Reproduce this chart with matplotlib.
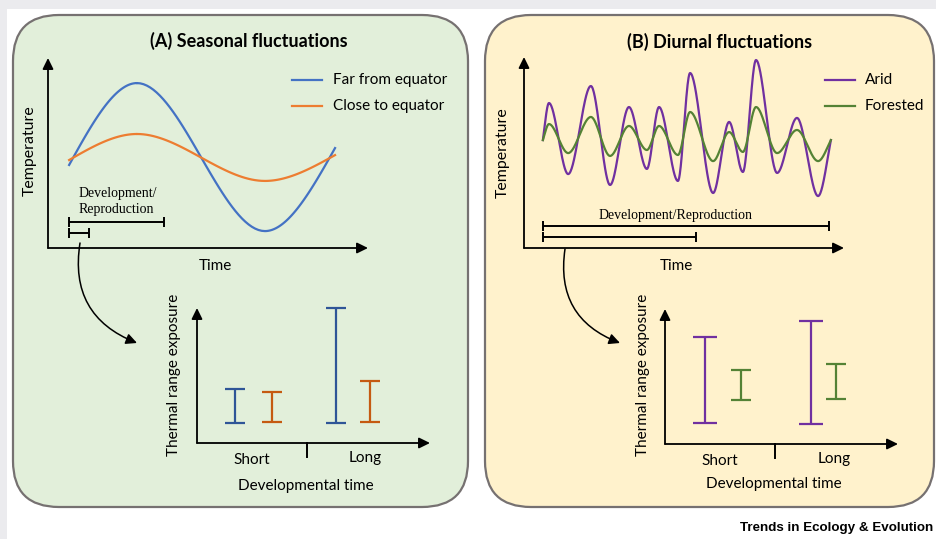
import numpy as np
import matplotlib
matplotlib.use("Agg")
import matplotlib.pyplot as plt
from matplotlib.patches import FancyBboxPatch, FancyArrowPatch, Rectangle

# ---------------- data ----------------
# (A) seasonal fluctuations: turning points of the temperature curves (relative units 0-100)
seasonal_series = ["Far from equator", "Close to equator"]
seasonal_time = [6.6, 27.8, 67.8, 89.7]
seasonal_temp_far = [43.7, 86.8, 8.9, 52.6]
seasonal_temp_close = [46.3, 60.0, 35.3, 48.9]
seasonal_dev_long = [6.6, 36.3]
seasonal_dev_short = [6.6, 12.8]

# (B) diurnal fluctuations: turning points of the temperature curves
diurnal_series = ["Arid", "Forested"]
diurnal_time = [5.9, 7.8, 13.8, 20.9, 26.9, 32.8, 38.4, 42.2, 48.1, 51.9,
                59.1, 64.1, 68.4, 72.5, 79.1, 85.3, 91.9, 95.9]
diurnal_temp_arid = [56.5, 75.9, 38.7, 84.8, 33.0, 73.8, 41.4, 73.8, 35.1, 91.6,
                     28.8, 66.0, 39.8, 98.4, 39.3, 68.1, 27.2, 56.5]
diurnal_temp_forested = [56.5, 64.9, 49.7, 68.6, 48.2, 63.9, 51.3, 63.9, 48.7, 71.2,
                         45.5, 60.7, 50.3, 73.8, 49.7, 61.8, 45.5, 56.5]
diurnal_dev_long = [5.9, 95.3]
diurnal_dev_short = [5.9, 53.8]

# thermal range exposure (low, high) per developmental time category
dev_categories = ["Short", "Long"]
seasonal_far_low = [14.8, 14.8]
seasonal_far_high = [40.0, 100.0]
seasonal_close_low = [15.6, 15.6]
seasonal_close_high = [37.8, 45.9]
diurnal_arid_low = [15.6, 14.8]
diurnal_arid_high = [79.3, 91.1]
diurnal_forest_low = [32.6, 33.3]
diurnal_forest_high = [54.8, 59.3]

# ---------------- styling ----------------
C_BLUE, C_ORANGE = "#4472c4", "#ed7d31"
C_BLUE_D, C_ORANGE_D = "#2f5597", "#c55a11"
C_PURPLE, C_GREEN = "#7030a0", "#548235"
SANS = ["Lato", "DejaVu Sans"]
SERIF = ["Liberation Serif", "DejaVu Serif"]
FS = 11

W, H = 936, 539
fig = plt.figure(figsize=(W / 100, H / 100), dpi=100)
bg = fig.add_axes([0, 0, 1, 1])
bg.set_xlim(0, W)
bg.set_ylim(H, 0)
bg.axis("off")

bg.add_patch(Rectangle((0, 0), W, 9, color="#ebebee", lw=0))
bg.add_patch(Rectangle((0, 0), 7, H, color="#ebebee", lw=0))
for x0, x1, fc in [(13, 468, "#e2efda"), (485, 934, "#fff2cc")]:
    bg.add_patch(FancyBboxPatch((x0, 15), x1 - x0, 492,
                                boxstyle="round,pad=0,rounding_size=46",
                                fc=fc, ec="#767171", lw=1.6))


def px_axes(x0, ytop, x1, ybot):
    ax = fig.add_axes([x0 / W, 1 - ybot / H, (x1 - x0) / W, (ybot - ytop) / H])
    ax.patch.set_alpha(0)
    for s in ax.spines.values():
        s.set_visible(False)
    ax.set_xticks([])
    ax.set_yticks([])
    arrow = dict(arrowstyle="-|>,head_length=0.65,head_width=0.32", lw=1.3,
                 color="black", mutation_scale=10, shrinkA=0, shrinkB=0)
    ax.annotate("", xy=(0, 1), xytext=(0, 0), xycoords="axes fraction", arrowprops=arrow)
    ax.annotate("", xy=(1, 0), xytext=(0, 0), xycoords="axes fraction", arrowprops=arrow)
    return ax


def smooth_curve(t, v, n=40, edge=1.5):
    t = np.asarray(t, float)
    v = np.asarray(v, float)
    xs, ys = [], []
    last = len(t) - 2
    s = np.linspace(0, 1, n)
    h00 = 2 * s**3 - 3 * s**2 + 1
    h10 = s**3 - 2 * s**2 + s
    h01 = -2 * s**3 + 3 * s**2
    h11 = s**3 - s**2
    for i in range(len(t) - 1):
        p0, p1 = v[i], v[i + 1]
        m0 = edge * (p1 - p0) if i == 0 else 0.0
        m1 = edge * (p1 - p0) if i == last else 0.0
        ys.append(h00 * p0 + h10 * m0 + h01 * p1 + h11 * m1)
        xs.append(t[i] + s * (t[i + 1] - t[i]))
    return np.concatenate(xs), np.concatenate(ys)


def dev_bar(ax, span, level):
    ax.plot(span, [level, level], color="black", lw=1.4, marker="|", ms=7, mew=1.4,
            solid_capstyle="butt")


# ---------------- (A) top plot ----------------
axA = px_axes(48, 58, 368, 248)
axA.set_xlim(0, 100)
axA.set_ylim(0, 100)
for temps, col in [(seasonal_temp_far, C_BLUE), (seasonal_temp_close, C_ORANGE)]:
    xs, ys = smooth_curve(seasonal_time, temps)
    axA.plot(xs, ys, color=col, lw=1.6)
dev_bar(axA, seasonal_dev_long, 13.7)
dev_bar(axA, seasonal_dev_short, 7.9)

# ---------------- (B) top plot ----------------
axB = px_axes(524, 57, 844, 248)
axB.set_xlim(0, 100)
axB.set_ylim(0, 100)
for temps, col in [(diurnal_temp_arid, C_PURPLE), (diurnal_temp_forested, C_GREEN)]:
    xs, ys = smooth_curve(diurnal_time, temps, edge=1.2)
    axB.plot(xs, ys, color=col, lw=1.6)
dev_bar(axB, diurnal_dev_long, 11.5)
dev_bar(axB, diurnal_dev_short, 5.8)


# ---------------- bottom plots ----------------
def range_bars(ax, lows_highs, offsets, caps, colors):
    pos = np.arange(len(dev_categories))
    for (lo, hi), off, cap, col in zip(lows_highs, offsets, caps, colors):
        lo = np.asarray(lo)
        hi = np.asarray(hi)
        ax.errorbar(pos + np.asarray(off), lo, yerr=[np.zeros_like(lo), hi - lo],
                    fmt="none", ecolor=col, elinewidth=1.6, capsize=cap,
                    capthick=1.6, clip_on=False)


axA2 = px_axes(197, 308, 430, 443)
axA2.set_xlim(-0.565, 1.765)
axA2.set_ylim(0, 100)
range_bars(axA2,
           [(seasonal_far_low, seasonal_far_high), (seasonal_close_low, seasonal_close_high)],
           [(-0.185, -0.175), (0.185, 0.165)], [7.5, 7.0], [C_BLUE_D, C_ORANGE_D])
axA2.plot([0.535, 0.535], [0, -10], color="black", lw=1.4, clip_on=False)

axB2 = px_axes(665, 309, 898, 444)
axB2.set_xlim(-0.58, 1.75)
axB2.set_ylim(0, 100)
range_bars(axB2,
           [(diurnal_arid_low, diurnal_arid_high), (diurnal_forest_low, diurnal_forest_high)],
           [(-0.18, -0.125), (0.18, 0.125)], [8.3, 7.0], [C_PURPLE, C_GREEN])
axB2.plot([0.52, 0.52], [0, -10], color="black", lw=1.4, clip_on=False)

# ---------------- text ----------------
def t(x, y, s, **kw):
    kw.setdefault("family", SANS)
    kw.setdefault("fontsize", FS)
    kw.setdefault("ha", "center")
    kw.setdefault("va", "center")
    bg.text(x, y, s, **kw)

t(249, 41, "(A) Seasonal fluctuations", fontweight="bold", fontsize=13)
t(720, 42, "(B) Diurnal fluctuations", fontweight="bold", fontsize=13)
t(30, 151, "Temperature", rotation=90, fontsize=11.4)
t(503, 153, "Temperature", rotation=90, fontsize=11.4)
t(215, 266, "Time")
t(676, 266, "Time")

for (y, name, col) in [(80, seasonal_series[0], C_BLUE), (106, seasonal_series[1], C_ORANGE)]:
    bg.plot([292, 322], [y, y], color=col, lw=1.6)
    t(333, y, name, ha="left")
for (y, name, col) in [(80, diurnal_series[0], C_PURPLE), (106, diurnal_series[1], C_GREEN)]:
    bg.plot([825, 855], [y, y], color=col, lw=1.6)
    t(865, y, name, ha="left")

t(79, 193, "Development/", family=SERIF, fontsize=10, ha="left")
t(79, 210, "Reproduction", family=SERIF, fontsize=10, ha="left")
t(676, 215, "Development/Reproduction", family=SERIF, fontsize=10)

t(252, 460, dev_categories[0])
t(365, 458, dev_categories[1])
t(306, 486, "Developmental time")
t(174, 375, "Thermal range exposure", rotation=90)
t(720, 461, dev_categories[0])
t(834, 459, dev_categories[1])
t(774, 484, "Developmental time")
t(643, 375, "Thermal range exposure", rotation=90)

bg.text(933, 528, "Trends in Ecology & Evolution", family=["Liberation Sans", "DejaVu Sans"],
        fontweight="bold", fontsize=9.6, ha="right", va="center", color="black")

# ---------------- curved arrows ----------------
for (x0, y0, x1, y1) in [(80, 243, 137, 343), (565, 249, 620, 343)]:
    bg.add_patch(FancyArrowPatch((x0, y0), (x1, y1), connectionstyle="arc3,rad=0.4",
                                 arrowstyle="-|>,head_length=0.65,head_width=0.32",
                                 mutation_scale=10, lw=1.1, color="black",
                                 shrinkA=0, shrinkB=0))

fig.savefig("out.png", dpi=100)
